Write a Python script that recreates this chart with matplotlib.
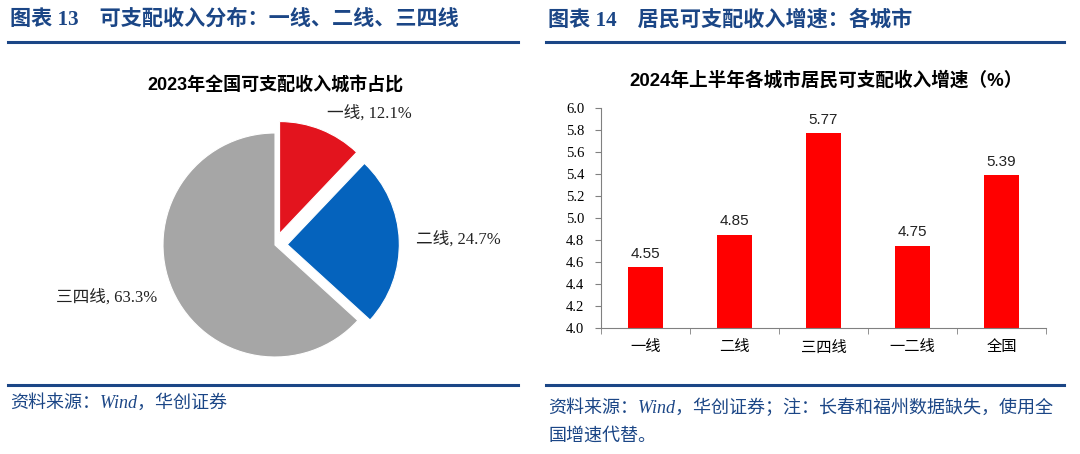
import matplotlib
matplotlib.use('Agg')
import matplotlib.pyplot as plt
import numpy as np

# Set color values
NAVY = '#1B4686'
RED = '#FF0000'
SERIF_CJK = ['Liberation Serif', 'Noto Sans CJK SC']
SANS_CJK = ['Liberation Sans', 'Noto Sans CJK SC']

plt.rcParams['font.family'] = SERIF_CJK

# Pie data
pie_labels = ['一线', '二线', '三四线']
pie_shares = [12.1, 24.7, 63.3]
pie_colors = ['#E3141E', '#0563BD', '#A6A6A6']
pie_explode = [0.11, 0.11, 0.0]

# Bar data
bar_cats = ['一线', '二线', '三四线', '一二线', '全国']
bar_vals = [4.55, 4.85, 5.77, 4.75, 5.39]
y_ticks = [4.0, 4.2, 4.4, 4.6, 4.8, 5.0, 5.2, 5.4, 5.6, 5.8, 6.0]

W, H = 1080, 454
fig = plt.figure(figsize=(W / 100, H / 100), dpi=100)


def px_axes(x0, y0, x1, y1):
    """Axes from pixel box (top-left origin)"""
    return fig.add_axes([x0 / W, 1 - y1 / H, (x1 - x0) / W, (y1 - y0) / H])


# Panel headers and rules
fig.text(10 / W, 1 - 20 / H, '图表 13    可支配收入分布：一线、二线、三四线', color=NAVY,
         fontsize=15.2, fontweight='bold', va='center', family=SERIF_CJK)
fig.text(548 / W, 1 - 20 / H, '图表 14    居民可支配收入增速：各城市', color=NAVY,
         fontsize=15.2, fontweight='bold', va='center', family=SERIF_CJK)
for x0, x1 in [(8, 518), (546, 1064)]:
    for yy in (42, 385):
        fig.add_artist(plt.Line2D([x0 / W, x1 / W], [1 - yy / H, 1 - yy / H],
                                  color=NAVY, lw=2.2))
fig.text(10 / W, 1 - 403 / H, '资料来源：Wind，华创证券', color=NAVY, fontsize=13,
         style='italic', va='center', family=SERIF_CJK)
fig.text(548 / W, 1 - 408 / H, '资料来源：Wind，华创证券；注：长春和福州数据缺失，使用全',
         color=NAVY, fontsize=13, style='italic', va='center', family=SERIF_CJK)
fig.text(548 / W, 1 - 436 / H, '国增速代替。', color=NAVY, fontsize=13,
         style='italic', va='center', family=SERIF_CJK)

# Pie chart
cx, cy, r = 275, 245, 112
span = 1.2 * r
ax1 = px_axes(cx - span, cy - span, cx + span, cy + span)
labels = ['%s, %.1f%%' % (n, v) for n, v in zip(pie_labels, pie_shares)]
ax1.pie(pie_shares, labels=labels, colors=pie_colors, explode=pie_explode,
        startangle=90, counterclock=False, labeldistance=1.15,
        wedgeprops={'linewidth': 0.8, 'edgecolor': 'white'},
        textprops={'fontsize': 12, 'color': '#222222', 'family': SERIF_CJK})
ax1.set_xlim(-1.2, 1.2)
ax1.set_ylim(-1.2, 1.2)
ax1.set_aspect('equal')
fig.text(275 / W, 1 - 86 / H, '2023年全国可支配收入城市占比', ha='center', va='center',
         fontsize=13, fontweight='bold', family=SANS_CJK)

# Bar chart
ax2 = px_axes(601, 108, 1046, 328)
x = np.arange(len(bar_cats))
ax2.bar(x, bar_vals, width=0.4, color=RED, zorder=2)
for xi, v in zip(x, bar_vals):
    ax2.text(xi, v + 0.06, '%.2f' % v, ha='center', va='bottom', fontsize=11,
             family=SANS_CJK, color='#222222')
ax2.set_ylim(4.0, 6.0)
ax2.set_xlim(-0.5, len(bar_cats) - 0.5)
ax2.set_yticks(y_ticks)
ax2.set_yticklabels(['%.1f' % t for t in y_ticks], fontsize=10.5, family=SERIF_CJK)
ax2.set_xticks(x)
ax2.set_xticklabels(bar_cats, fontsize=11, family=SANS_CJK)
ax2.set_xticks(np.arange(-0.5, len(bar_cats)), minor=True)
ax2.tick_params(axis='x', which='major', length=0, pad=9)
ax2.tick_params(axis='x', which='minor', length=4, direction='out', color='#808080')
ax2.tick_params(axis='y', length=4, direction='out', color='#808080', pad=8)
for side in ('top', 'right'):
    ax2.spines[side].set_visible(False)
for side in ('left', 'bottom'):
    ax2.spines[side].set_color('#808080')
fig.text(826 / W, 1 - 80 / H, '2024年上半年各城市居民可支配收入增速（%）', ha='center',
         va='center', fontsize=13.4, fontweight='bold', family=SANS_CJK)

fig.savefig('out.png', dpi=100)
